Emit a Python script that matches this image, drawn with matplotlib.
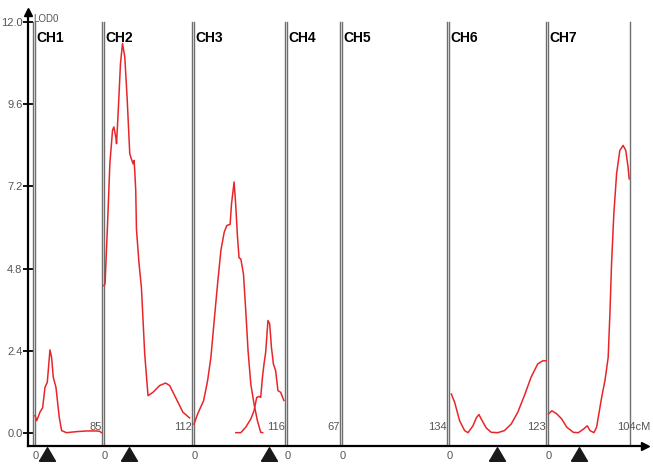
import numpy as np
import matplotlib.pyplot as plt
from matplotlib.path import Path

plt.rcParams['font.family'] = ['Liberation Sans', 'DejaVu Sans']

## chromosome data
chrom_names = ['CH1', 'CH2', 'CH3', 'CH4', 'CH5', 'CH6', 'CH7']
chrom_len = [85, 112, 116, 67, 134, 123, 104]
y_ticks = [0.0, 2.4, 4.8, 7.2, 9.6, 12.0]

# LOD profiles (cM within chromosome, LOD)
ch1_cm = [0, 2.2, 6.3, 9.7, 12.7, 15.6, 19.0, 21.1, 23.2, 26.6, 30.8, 33.8, 40.0, 52.8, 65.4, 78.0, 82.0, 84.5]
ch1_lod = [0.50, 0.35, 0.60, 0.73, 1.33, 1.47, 2.42, 2.20, 1.62, 1.33, 0.45, 0.06, 0.00, 0.03, 0.05, 0.05, 0.04, 0.00]

ch2_cm = [0, 1.5, 4.5, 7.6, 11.0, 12.7, 15.2, 16.1, 18.1, 21.1, 23.7, 26.6, 29.5, 32.9, 35.0, 37.1, 38.4,
          39.2, 40.5, 41.4, 44.7, 47.7, 51.9, 56.1, 62.4, 71.0, 78.5, 83.5, 92.0, 100.4, 108.9]
ch2_lod = [4.30, 4.35, 6.00, 7.86, 8.84, 8.94, 8.64, 8.45, 9.33, 10.79, 11.38, 10.98, 9.81, 8.16, 8.00, 7.86, 7.96,
           7.67, 7.08, 5.95, 4.94, 4.25, 2.30, 1.08, 1.18, 1.38, 1.45, 1.38, 0.99, 0.60, 0.43]

ch3a_cm = [0, 4.7, 12.3, 17.3, 21.5, 25.7, 30.0, 34.2, 38.4, 41.8, 45.9, 47.7, 51.0, 53.2, 55.3, 57.3, 59.5,
           62.9, 65.8, 68.7, 72.2, 76.3, 80.6, 84.8, 87.3]
ch3a_lod = [0.25, 0.55, 0.94, 1.52, 2.20, 3.28, 4.35, 5.33, 5.86, 6.06, 6.09, 6.69, 7.33, 6.60, 5.72, 5.11, 5.08,
            4.64, 3.57, 2.40, 1.42, 0.84, 0.35, 0.01, 0.00]
ch3b_cm = [53.2, 59.5, 65.8, 72.2, 76.3, 79.7, 82.7, 84.8, 87.0, 89.0, 91.1, 94.0, 96.2, 98.4, 100.9, 103.8,
           106.7, 110.1, 114.3]
ch3b_lod = [0.00, 0.00, 0.16, 0.40, 0.64, 1.03, 1.06, 1.03, 1.62, 2.01, 2.35, 3.28, 3.18, 2.50, 2.01, 1.81,
            1.23, 1.18, 0.94]

ch6_cm = [2.5, 6.7, 13.0, 19.4, 23.7, 30.0, 34.2, 37.6, 40.5, 46.8, 53.2, 61.6, 70.0, 78.5, 87.0, 95.3,
          103.8, 112.3, 118.6, 123.0]
ch6_lod = [1.13, 0.89, 0.35, 0.06, 0.00, 0.20, 0.43, 0.53, 0.40, 0.14, 0.01, 0.00, 0.06, 0.25, 0.60, 1.08,
           1.62, 2.01, 2.10, 2.10]

ch7_cm = [0.4, 4.7, 11.0, 17.3, 23.7, 32.0, 38.4, 44.7, 49.7, 53.2, 58.2, 61.6, 68.0, 72.2, 76.3, 78.5,
          80.6, 83.5, 87.0, 91.1, 95.3, 98.7, 101.6, 103.0]
ch7_lod = [0.55, 0.64, 0.55, 0.40, 0.16, 0.01, 0.00, 0.10, 0.20, 0.06, 0.00, 0.16, 1.03, 1.52, 2.20, 3.47,
           4.94, 6.40, 7.57, 8.25, 8.40, 8.25, 7.76, 7.42]

profiles = [(0, ch1_cm, ch1_lod), (1, ch2_cm, ch2_lod), (2, ch3a_cm, ch3a_lod),
            (2, ch3b_cm, ch3b_lod), (5, ch6_cm, ch6_lod), (6, ch7_cm, ch7_lod)]

# QTL markers (chromosome index, cM)
qtl_chrom = [0, 1, 2, 5, 6]
qtl_cm = [15.6, 32.5, 95.0, 60.5, 38.9]

## layout
gap = 2.5
offsets = np.concatenate([[0], np.cumsum(np.array(chrom_len) + gap)[:-1]])

fig = plt.figure(figsize=(6.53, 4.69), dpi=100)
ax = fig.add_axes([28 / 653, 23 / 469, 617 / 653, 434 / 469])
ax.set_xlim(-8.9, 775.1)
ax.set_ylim(-0.39, 12.3)

for s in ['top', 'right']:
    ax.spines[s].set_visible(False)
ax.spines['left'].set_linewidth(1.6)
ax.spines['bottom'].set_linewidth(1.6)

# arrow heads
ax.plot(1, 0, '>k', ms=6, transform=ax.transAxes, clip_on=False)
ax.plot(0, 1, '^k', ms=6, transform=ax.transAxes, clip_on=False)

ax.set_yticks(y_ticks)
ax.set_yticklabels(['%.1f' % v for v in y_ticks], color='#555555', fontsize=8)
ax.tick_params(axis='y', direction='inout', length=7, width=1.3, pad=0.5)
ax.set_xticks([])
ax.text(0.008, 0.985, 'LOD0', transform=ax.transAxes, fontsize=7, color='#555555', va='center')

# chromosome frames
line_kw = dict(color='#6e6e6e', lw=1.0)
ax.plot([offsets[0] - gap] * 2, [-0.39, 12.0], **line_kw)
for i, (name, L) in enumerate(zip(chrom_names, chrom_len)):
    x0 = offsets[i]
    ax.plot([x0, x0], [-0.39, 12.0], **line_kw)
    ax.plot([x0 + L, x0 + L], [-0.39, 12.0], **line_kw)
    ax.text(x0 + 1.5, 11.55, name, fontsize=10, fontweight='bold', va='center', ha='left')
    ax.text(x0 + 1, -0.67, '0', fontsize=8, color='#555555', ha='center', va='center')
    if i == len(chrom_names) - 1:
        ax.text(x0 + L - 16, 0.16, '%dcM' % L, fontsize=8, color='#555555', ha='left', va='center')
    else:
        ax.text(x0 + L - 0.5, 0.16, '%d' % L, fontsize=8, color='#555555', ha='right', va='center')

# LOD profiles
for ci, cm, lod in profiles:
    ax.plot(offsets[ci] + np.array(cm), lod, color='#e8262a', lw=1.1)

# QTL triangles
tri = Path([(-1, -0.85), (1, -0.85), (0, 0.85), (-1, -0.85)])
for ci, cm in zip(qtl_chrom, qtl_cm):
    ax.plot(offsets[ci] + cm, -0.63, marker=tri, ms=11.5, color='#1a1a1a', clip_on=False)

plt.savefig('out.png', dpi=100)
